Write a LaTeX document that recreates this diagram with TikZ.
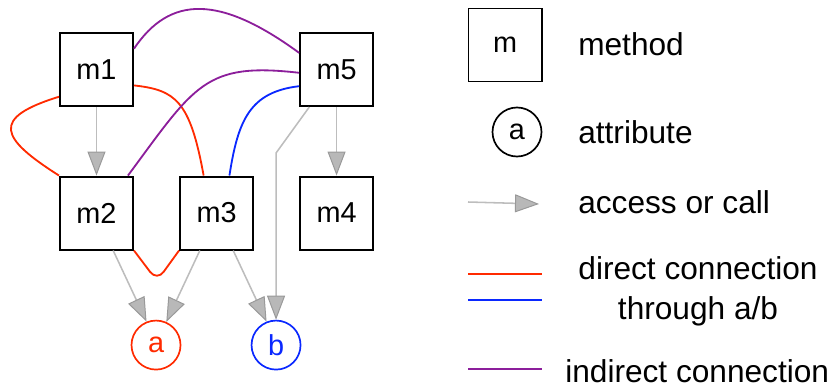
\documentclass[tikz,border=0pt]{standalone}
\usepackage{fontspec}
\setmainfont{Liberation Sans}
\usetikzlibrary{arrows.meta,positioning}
\definecolor{dirred}{RGB}{255,42,0}
\definecolor{dirblue}{RGB}{10,40,255}
\definecolor{indpurple}{RGB}{140,30,155}
\definecolor{callgray}{RGB}{189,189,189}

\begin{document}
\begin{tikzpicture}[x=0.025cm, y=-0.025cm, node distance=3cm, on grid,
		block/.style = {rectangle, draw, line width=1.4pt, minimum size=1.825cm,
					inner sep=0pt, font=\fontsize{20.5}{24}\selectfont}, attr/.style =
				{circle, draw, line width=1.2pt, minimum size=1.225cm, inner sep=0pt,
					font=\fontsize{20.5}{24}\selectfont}, arrow/.style =
				{-{Triangle[length=0.6cm, width=0.45cm, line width=0.7pt,
							color=black!40, fill=black!28]}, draw=callgray, line width=1.1pt},
		direct/.style = {dirred, line width=1.3pt}, indirect/.style =
				{indpurple, line width=1.3pt}, legend/.style = {anchor=base west,
					inner sep=0pt, font=\fontsize{22.5}{28.5}\selectfont}
	]
	\useasboundingbox (0,0) rectangle (832,388);

	% Nodes
	\node [block] (m1) at (96.5,69.5) {m1}; \node [block, below=3.5875cm of
			m1] (m2) {m2}; \node [block, right=of m2] (m3) {m3}; \node [block,
			right=of m3] (m4) {m4}; \node [block, above=3.5875cm of m4] (m5) {m5};

	\node [attr, draw=dirred, text=dirred, below right=3.3cm and 1.4875cm of
			m2] (a) {a}; \node [attr, draw=dirblue, text=dirblue, right=of a] (b)
	{b};

	% Arrows
	\draw [arrow] (m1) -- (m2); \draw [arrow] (m5) -- (m4);
	\draw [arrow] (m2.-66) -- (a.112); \draw [arrow] (m3.-114) -- (a.66);
	\draw [arrow] (m3.-66) -- (b.112);
	\draw [arrow] (m5.-126) -- (b.north |- 0,153) -- (b.north);

	% Connections
	\draw [direct] (m1.216) .. controls (-10,118) and (0,138) .. (m2.north
		west); \draw [direct] (m1.-23) .. controls (175,90) and (190,100) ..
	(m3.109); \draw [direct, rounded corners=8pt] (m2.south east) --
	(157,281) -- (m3.south west);
	\draw [direct, color=dirblue] (m3.71) .. controls (238,120) and (250,92)
	.. (m5.204);
	\draw [indirect] (m1.29) .. controls (170,-5) and (220,-5) .. (m5.156);
	\draw [indirect] (m2.50) .. controls (195,85) and (205,62) .. (m5.185);

	% Legend
	\node [block] (legm) at (505,45) {m}; \node [legend] (lmethod) at
	(578,55) {method};
	\node [attr] (lega) at (517,132) {a}; \node [legend] (lattr) at (578,143)
	{attribute};

	\coordinate (accS) at (468,202); \coordinate (accE) at (539,204);
	\draw [arrow] (accS) -- (accE); \node [legend] (lacc) at (578,213)
	{access or call};

	\coordinate (redS) at (468,274); \coordinate (redE) at (542,274);
	\coordinate (blueS) at (468,300); \coordinate (blueE) at (542,300);
	\draw [direct] (redS) -- (redE); \draw [direct, color=dirblue] (blueS) --
	(blueE); \node [legend, anchor=center, align=center] (ldirect) at
	(698,291) {direct connection\\through a/b};

	\coordinate (purS) at (468,369); \coordinate (purE) at (542,369);
	\draw [indirect] (purS) -- (purE); \node [legend] (lindirect) at
	(565,382) {indirect connection};
\end{tikzpicture}
\end{document}
